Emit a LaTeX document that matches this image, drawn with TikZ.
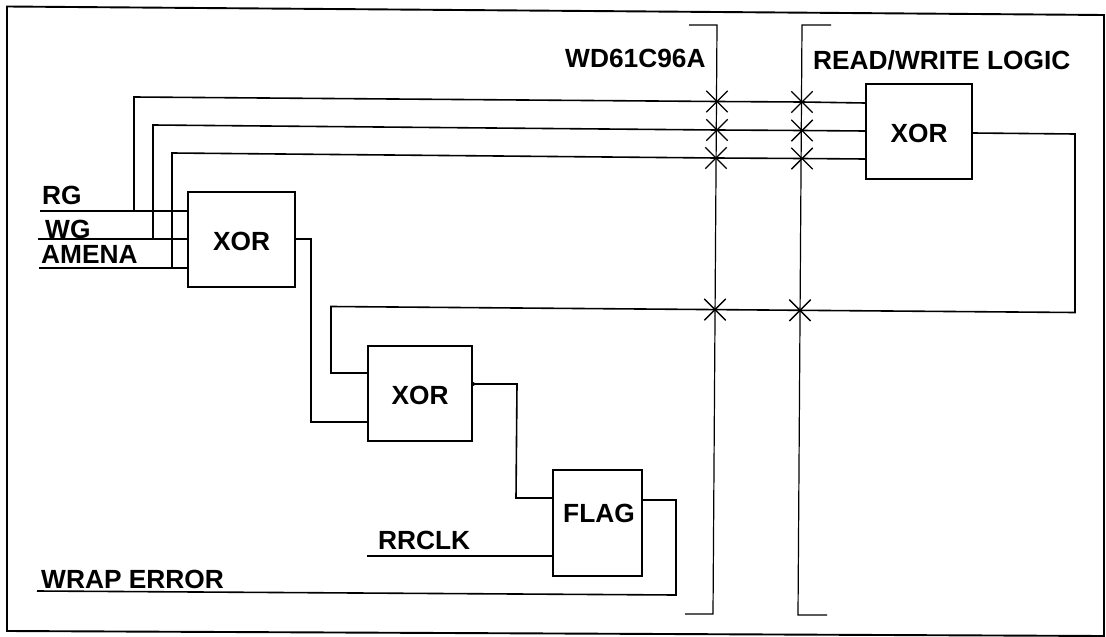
\documentclass[tikz,border=0pt]{standalone}
\usepackage{fontspec}
\setmainfont{Liberation Sans}
\usetikzlibrary{shapes.misc}
\newcommand{\gatetext}[1]{\raisebox{-1.5pt}[19pt][0pt]{#1}}
\tikzset{
  wire/.style={line width=1.6pt,line join=miter},
  gatebox/.style={draw,line width=1.9pt,rectangle,inner sep=0pt,font=\fontsize{26.3}{26.3}\selectfont\bfseries},
  lbl/.style={anchor=base west,inner sep=0pt,font=\fontsize{26.3}{26.3}\selectfont\bfseries},
  xmark/.style={cross out,draw,line width=1.4pt,minimum size=20pt,inner sep=0pt},
  pin/.style={circle,fill,inner sep=0pt,minimum size=4pt},
  bus/.style={line width=1.2pt,line join=miter},
}
\begin{document}
\begin{tikzpicture}[x=1pt,y=-1pt]
\useasboundingbox (0,0) rectangle (1106,637);
% frame
\coordinate (f1) at (7,6.5); \coordinate (f2) at (1104,15);
\coordinate (f3) at (1104,636); \coordinate (f4) at (7,631);
\draw[line width=1.9pt] (f1) -- (f2) -- (f3) -- (f4) -- cycle;
% gates
\node[gatebox,minimum width=107pt,minimum height=95pt] (xa) at (241.5,239.5) {\gatetext{XOR}};
\node[gatebox,minimum width=106pt,minimum height=95pt] (xt) at (919,131.5) {\gatetext{XOR}};
\node[gatebox,minimum width=104pt,minimum height=95pt] (xb) at (420,393.5) {\gatetext{XOR}};
\node[gatebox,minimum width=89pt,minimum height=106pt] (fl) at (597.5,523) {};
\node[lbl] (flt) at (563,522) {FLAG};
% labels
\node[lbl] (lrg) at (42,204) {RG};
\node[lbl] (lwg) at (45,238) {WG};
\node[lbl] (lam) at (41,263) {AMENA};
\node[lbl] (lrr) at (378,549) {RRCLK};
\node[lbl] (lwr) at (41,588) {WRAP ERROR};
\node[lbl] (lwd) at (565,67) {WD61C96A};
\node[lbl] (lrw) at (813,69) {READ/WRITE LOGIC};
% bus brackets
\coordinate (ba1) at (689,25); \coordinate (ba2) at (717,25);
\coordinate (ba3) at (713,614); \coordinate (ba4) at (685,614);
\coordinate (bb1) at (831,25); \coordinate (bb2) at (802,25);
\coordinate (bb3) at (798,615); \coordinate (bb4) at (827,615);
\draw[bus] (ba1) -- (ba2) -- (ba3) -- (ba4);
\draw[bus] (bb1) -- (bb2) -- (bb3) -- (bb4);
% crossings
\node[xmark] (c11) at (717,101.5) {}; \node[xmark] (c21) at (802,102) {};
\node[xmark] (c12) at (717,130) {}; \node[xmark] (c22) at (802,130.5) {};
\node[xmark] (c13) at (716,158) {}; \node[xmark] (c23) at (802,158.5) {};
\node[xmark] (c14) at (715,309.6) {}; \node[xmark] (c24) at (800,310.3) {};
% inputs of XOR 1
\coordinate (ia) at (xa.west |- 0,211); \coordinate (ib) at (xa.west |- 0,239); \coordinate (ic) at (xa.west |- 0,268);
\coordinate (sa) at (40,211); \coordinate (sb) at (38,239); \coordinate (sc) at (39,268);
\draw[wire] (sa) -- (ia); \draw[wire] (sb) -- (ib); \draw[wire] (sc) -- (ic);
% inputs of top XOR
\coordinate (ta) at (xt.west |- 0,103); \coordinate (tb) at (xt.west |- 0,131); \coordinate (tc) at (xt.west |- 0,159);
\coordinate (ja) at (134,211); \coordinate (jb) at (153,239); \coordinate (jc) at (172,268);
\coordinate (ka) at (134,97); \coordinate (kb) at (153,125); \coordinate (kc) at (172,153);
\draw[wire] (ja) -- (ka) -- (c11.center) -- (c21.center) -- (ta);
\draw[wire] (jb) -- (kb) -- (c12.center) -- (c22.center) -- (tb);
\draw[wire] (jc) -- (kc) -- (c13.center) -- (c23.center) -- (tc);
% top XOR output to lower XOR
\coordinate (ot) at (xt.east |- 0,133); \coordinate (r1) at (1075,134); \coordinate (r2) at (1075,312.5);
\coordinate (l1) at (331,306.5); \coordinate (l2) at (331,373); \coordinate (ib1) at (xb.west |- 0,373);
\draw[wire] (ot) -- (r1) -- (r2) -- (c24.center) -- (c14.center) -- (l1) -- (l2) -- (ib1);
% XOR 1 output
\coordinate (oa) at (xa.east |- 0,239); \coordinate (m1) at (311,239); \coordinate (m2) at (311,422); \coordinate (ib2) at (xb.west |- 0,422);
\draw[wire] (oa) -- (m1) -- (m2) -- (ib2);
% lower XOR output to flag
\coordinate (ob) at (xb.east |- 0,384); \coordinate (n1) at (517,384); \coordinate (n2) at (516,498); \coordinate (if1) at (fl.west |- 0,498);
\draw[wire] (ob) -- (n1) -- (n2) -- (if1);
\node[pin] (pb) at (ob) {};
% RRCLK
\coordinate (rs) at (367,556); \coordinate (if2) at (fl.west |- 0,556);
\draw[wire] (rs) -- (if2);
% FLAG output
\coordinate (of) at (fl.east |- 0,500); \coordinate (p1) at (676,500); \coordinate (p2) at (676,595); \coordinate (p3) at (37,591);
\draw[wire] (of) -- (p1) -- (p2) -- (p3);
\end{tikzpicture}
\end{document}
